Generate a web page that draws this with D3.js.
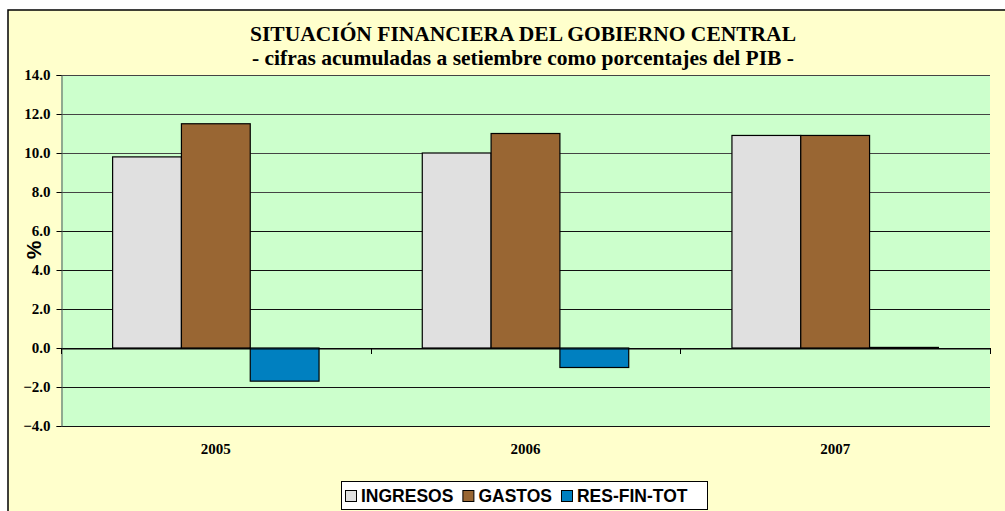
<!DOCTYPE html>
<html><head><meta charset="utf-8">
<script src="https://cdn.jsdelivr.net/npm/d3@7/dist/d3.min.js"></script>
<style>body{margin:0;background:#fff}svg{display:block}</style>
</head><body>
<script>
const categories = ["2005", "2006", "2007"];
const seriesNames = ["INGRESOS", "GASTOS", "RES-FIN-TOT"];
const ingresos = [9.8, 10.0, 10.9];
const gastos = [11.5, 11.0, 10.9];
const resFinTot = [-1.7, -1.0, 0.03];
const yTicks = [-4, -2, 0, 2, 4, 6, 8, 10, 12, 14];
const colors = ["#E0E0E0", "#996633", "#0080C0"];
const titleLines = ["SITUACIÓN FINANCIERA DEL GOBIERNO CENTRAL", "- cifras acumuladas a setiembre como porcentajes del PIB -"];

const W = 1005, H = 511;
const svg = d3.select("body").append("svg").attr("width", W).attr("height", H);
svg.append("rect").attr("x", 8).attr("y", 10).attr("width", W).attr("height", H)
  .attr("fill", "#FFFFCC").attr("stroke", "#000").attr("stroke-width", 1.5);

const m = {left: 61, right: 990, top: 75, bottom: 426};
const x = d3.scaleBand().domain(categories).range([m.left, m.right]).paddingInner(0).paddingOuter(0);
const y = d3.scaleLinear().domain([-4, 14]).range([m.bottom, m.top]);
const xs = d3.scaleBand().domain(seriesNames).range([0, x.bandwidth()]).paddingInner(0).paddingOuter(0.75);

svg.append("rect").attr("x", m.left).attr("y", m.top).attr("width", m.right - m.left).attr("height", m.bottom - m.top)
  .attr("fill", "#CCFFCC");

// gridlines
svg.append("g").selectAll("line").data(yTicks).join("line")
  .attr("x1", m.left).attr("x2", m.right)
  .attr("y1", d => Math.round(y(d)) + 0.5).attr("y2", d => Math.round(y(d)) + 0.5)
  .attr("stroke", d => d >= 8 ? "#444" : "#111").attr("stroke-width", 1);

// y axis
const yAxis = d3.axisLeft(y).tickValues(yTicks).tickFormat(d3.format(".1f")).tickSize(5).tickPadding(6);
const gy = svg.append("g").attr("transform", `translate(${m.left + 0.5},0)`).call(yAxis);
gy.select(".domain").attr("stroke", "#555");
gy.selectAll(".tick line").attr("stroke", "#000");
gy.selectAll("text").attr("font-family", "Liberation Serif").attr("font-weight", "bold")
  .attr("font-size", 15).attr("fill", "#000");

// bars
const series = [ingresos, gastos, resFinTot];
series.forEach((vals, si) => {
  svg.append("g").selectAll("rect").data(vals).join("rect")
    .attr("x", (d, i) => x(categories[i]) + xs(seriesNames[si]))
    .attr("width", xs.bandwidth())
    .attr("y", d => y(Math.max(0, d)))
    .attr("height", d => Math.abs(y(d) - y(0)))
    .attr("fill", colors[si]).attr("stroke", "#000").attr("stroke-width", 1.2);
});

// x axis at zero
const xAxis = d3.axisBottom(x).tickSize(0).tickFormat("");
const gx = svg.append("g").attr("transform", `translate(0,${Math.round(y(0)) + 0.5})`).call(xAxis);
gx.select(".domain").attr("stroke", "#000");
const bounds = [m.left, ...categories.map(c => x(c) + x.bandwidth())];
svg.append("g").selectAll("line").data(bounds).join("line")
  .attr("x1", d => Math.round(d) + 0.5).attr("x2", d => Math.round(d) + 0.5)
  .attr("y1", y(0)).attr("y2", y(0) + 6).attr("stroke", "#000");

// category labels
svg.append("g").selectAll("text").data(categories).join("text")
  .attr("x", d => x(d) + x.bandwidth() / 2).attr("y", 454)
  .attr("text-anchor", "middle").attr("font-family", "Liberation Serif").attr("font-weight", "bold")
  .attr("font-size", 15).text(d => d);

// y label
svg.append("text").attr("transform", "translate(41,250) rotate(-90)")
  .attr("text-anchor", "middle").attr("font-family", "Liberation Sans").attr("font-weight", "bold")
  .attr("font-size", 21).text("%");

// title
svg.append("g").selectAll("text").data(titleLines).join("text")
  .attr("x", 523).attr("y", (d, i) => 41 + i * 24)
  .attr("text-anchor", "middle").attr("font-family", "Liberation Serif").attr("font-weight", "bold")
  .attr("font-size", 21.5).text(d => d);

// legend
const lg = svg.append("g");
lg.append("rect").attr("x", 341.5).attr("y", 481.5).attr("width", 366).attr("height", 28)
  .attr("fill", "#fff").attr("stroke", "#000");
let lx = 345;
seriesNames.forEach((n, i) => {
  lg.append("rect").attr("x", lx + 0.5).attr("y", 490.5).attr("width", 11).attr("height", 11)
    .attr("fill", colors[i]).attr("stroke", "#000");
  const t = lg.append("text").attr("x", lx + 16).attr("y", 502)
    .attr("font-family", "Liberation Sans").attr("font-weight", "bold").attr("font-size", 17.5).text(n);
  lx += 16 + t.node().getComputedTextLength() + 9;
});
</script>
</body></html>
